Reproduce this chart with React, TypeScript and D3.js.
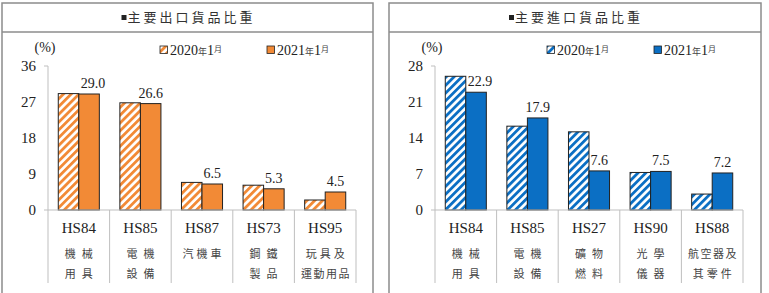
import * as d3 from "d3";

// export panel
const exportCodes = ["HS84", "HS85", "HS87", "HS73", "HS95"];
const exportNames = [["機械", "用具"], ["電機", "設備"], ["汽機車"], ["鋼鐵", "製品"], ["玩具及", "運動用品"]];
const export2020 = [29.1, 26.8, 6.9, 6.2, 2.5];
const export2021 = [29.0, 26.6, 6.5, 5.3, 4.5];
const exportTicks = [0, 9, 18, 27, 36];

// import panel
const importCodes = ["HS84", "HS85", "HS27", "HS90", "HS88"];
const importNames = [["機械", "用具"], ["電機", "設備"], ["礦物", "燃料"], ["光學", "儀器"], ["航空器及", "其零件"]];
const import2020 = [26.0, 16.3, 15.2, 7.3, 3.1];
const import2021 = [22.9, 17.9, 7.6, 7.5, 7.2];
const importTicks = [0, 7, 14, 21, 28];

const legendLabels = ["2020年1月", "2021年1月"];

const W = 769;
const H = 293;
const SERIF = "'Liberation Serif', 'Times New Roman', serif";
const CJK = "'Noto Sans CJK TC', 'Noto Sans CJK SC', sans-serif";

type PanelProps = {
  x0: number;
  x1: number;
  title: string;
  codes: string[];
  names: string[][];
  v2020: number[];
  v2021: number[];
  ticks: number[];
  color: string;
  pid: string;
};

function Panel({ x0, x1, title, codes, names, v2020, v2021, ticks, color, pid }: PanelProps) {
  const axisX = x0 + 46;
  const y = d3.scaleLinear().domain([0, d3.max(ticks)!]).range([210, 66]);
  const x = d3.scaleBand<string>().domain(codes).range([axisX, axisX + 308]);
  const sub = d3
    .scaleBand<string>()
    .domain(["2020", "2021"])
    .range([0, x.bandwidth()])
    .paddingInner(0)
    .paddingOuter(0.5);
  const mid = (x0 + x1) / 2;
  const top = ticks[ticks.length - 1];

  return (
    <g>
      <defs>
        <pattern id={pid} patternUnits="userSpaceOnUse" width={5.5} height={5.5} patternTransform="rotate(45)">
          <rect width={5.5} height={5.5} fill="#fff" />
          <rect width={2.8} height={5.5} fill={color} />
        </pattern>
      </defs>
      {/* frame */}
      <rect x={x0} y={3} width={x1 - x0} height={H + 10} fill="#fff" stroke="#8c8c8c" strokeWidth={1.5} />
      <line x1={x0} x2={x1} y1={32} y2={32} stroke="#8c8c8c" strokeWidth={1.5} />
      <rect x={mid - 66} y={15} width={5} height={5} fill="#222" />
      <text x={mid + 4} y={22} textAnchor="middle" fontFamily={CJK} fontSize={13} letterSpacing={3} fill="#333">
        {title}
      </text>

      {/* unit + legend */}
      <text x={x0 + 43} y={52} textAnchor="middle" fontFamily={SERIF} fontSize={14} fill="#222">
        (%)
      </text>
      {legendLabels.map((l, i) => {
        const lx = x0 + 158 + i * 107;
        return (
          <g key={l}>
            <rect x={lx} y={46} width={7.5} height={7.5} fill={i === 0 ? `url(#${pid})` : color} stroke="#222" strokeWidth={0.8} />
            <text x={lx + 10} y={55} fontFamily={SERIF} fontSize={14} fill="#222">
              {l.slice(0, 4)}
              <tspan fontFamily={CJK} fontSize={9} fill="#444">年</tspan>
              {l.slice(5, 6)}
              <tspan fontFamily={CJK} fontSize={8} dy={-3} fill="#444">月</tspan>
            </text>
          </g>
        );
      })}

      {/* y axis */}
      <line x1={axisX} x2={axisX} y1={y(top)} y2={210} stroke="#bfbfbf" />
      <line x1={axisX - 4} x2={axisX} y1={y(top)} y2={y(top)} stroke="#bfbfbf" />
      {ticks.map((t) => (
        <text key={t} x={axisX - 12} y={y(t) + 5} textAnchor="end" fontFamily={SERIF} fontSize={15} fill="#222">
          {t}
        </text>
      ))}

      {/* bars */}
      {codes.map((c, i) => (
        <g key={c}>
          <rect
            x={x(c)! + sub("2020")!}
            y={y(v2020[i])}
            width={sub.bandwidth()}
            height={210 - y(v2020[i])}
            fill={`url(#${pid})`}
            stroke="#222"
            strokeWidth={1}
          />
          <rect
            x={x(c)! + sub("2021")!}
            y={y(v2021[i])}
            width={sub.bandwidth()}
            height={210 - y(v2021[i])}
            fill={color}
            stroke="#222"
            strokeWidth={1}
          />
          <text
            x={x(c)! + sub("2021")! + sub.bandwidth() / 2 + (i === 0 ? 4 : 0)}
            y={y(v2021[i]) - 6}
            textAnchor="middle"
            fontFamily={SERIF}
            fontSize={14}
            fill="#222"
          >
            {v2021[i].toFixed(1)}
          </text>
        </g>
      ))}

      {/* x axis with category separators */}
      <line x1={axisX - 4} x2={axisX + 308} y1={210} y2={210} stroke="#bfbfbf" />
      {[...codes.map((c) => x(c)!), axisX + 308].map((e, i) => (
        <line key={i} x1={e} x2={e} y1={210} y2={283} stroke="#bfbfbf" />
      ))}
      {codes.map((c, i) => {
        const cx = x(c)! + x.bandwidth() / 2;
        return (
          <g key={c}>
            <text x={cx} y={233} textAnchor="middle" fontFamily={SERIF} fontSize={15} fill="#222">
              {c}
            </text>
            {names[i].map((n, j) => {
              const ls = n.length >= 4 ? 1.5 : n.length === 3 ? 3 : 6;
              return (
                <text
                  key={j}
                  x={cx + ls / 2}
                  y={258 + j * 20}
                  textAnchor="middle"
                  fontFamily={CJK}
                  fontSize={11}
                  letterSpacing={ls}
                  fill="#444"
                >
                  {n}
                </text>
              );
            })}
          </g>
        );
      })}
    </g>
  );
}

export default function App() {
  return (
    <div style={{ position: "absolute", left: 0, top: 0, width: W, height: H, background: "#fff" }}>
      <svg width={W} height={H} viewBox={`0 0 ${W} ${H}`} style={{ display: "block" }}>
        <rect width={W} height={H} fill="#fff" />
        <Panel
          x0={2}
          x1={373}
          title="主要出口貨品比重"
          codes={exportCodes}
          names={exportNames}
          v2020={export2020}
          v2021={export2021}
          ticks={exportTicks}
          color="#f28a36"
          pid="stripeOrange"
        />
        <Panel
          x0={389}
          x1={761}
          title="主要進口貨品比重"
          codes={importCodes}
          names={importNames}
          v2020={import2020}
          v2021={import2021}
          ticks={importTicks}
          color="#0b6fc4"
          pid="stripeBlue"
        />
      </svg>
    </div>
  );
}
